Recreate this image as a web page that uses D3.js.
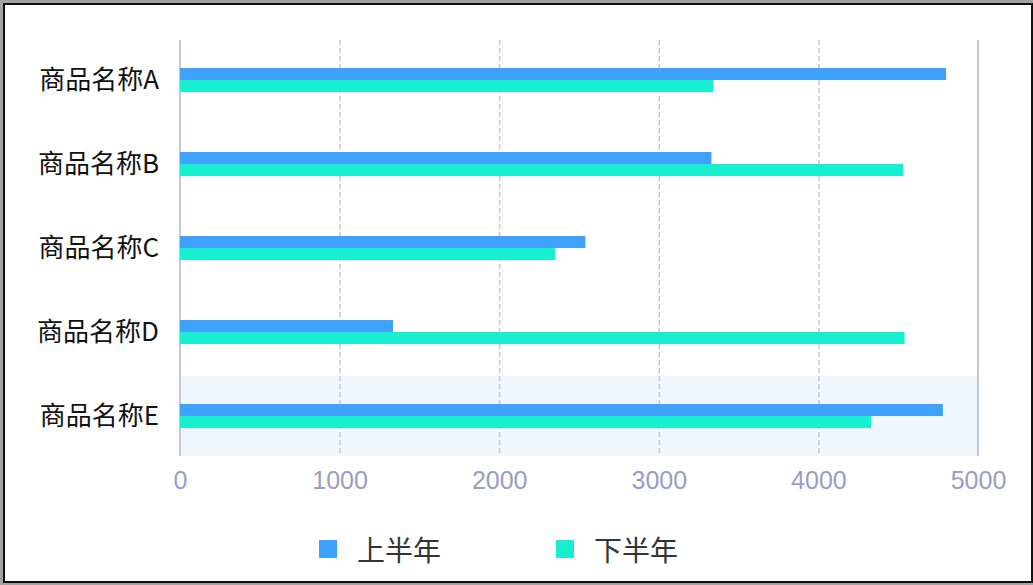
<!DOCTYPE html>
<html>
<head>
<meta charset="utf-8">
<script src="https://cdn.jsdelivr.net/npm/d3@7"></script>
<style>
  html, body { margin: 0; padding: 0; background: #a3a3a3; }
  #frame {
    position: absolute; left: 3px; top: 3px; width: 1026px; height: 576px;
    background: #fff; border: 2px solid #111;
  }
  svg { position: absolute; left: 0; top: 0; }
</style>
</head>
<body>
<div id="frame"></div>
<svg id="chart"></svg>
<script>
// chart data
const categories = ["商品名称A", "商品名称B", "商品名称C", "商品名称D", "商品名称E"];
const firstHalf = [4800, 3330, 2540, 1335, 4780];   // 上半年
const secondHalf = [3340, 4530, 2350, 4540, 4330];  // 下半年
const seriesNames = ["上半年", "下半年"];
const xTicks = [0, 1000, 2000, 3000, 4000, 5000];

const colors = ["#3ea1fe", "#18efcf"];

const width = 1033;
const height = 585;
const margin = { top: 40, right: 55, bottom: 129, left: 180 };
const plotW = width - margin.left - margin.right;   // 798
const plotH = height - margin.top - margin.bottom;  // 416

const svg = d3.select("#chart").attr("width", width).attr("height", height);

const xScale = d3.scaleLinear().domain([0, 5000]).range([0, plotW]);
const yScale = d3.scaleBand().domain(categories).range([-2, plotH + 2]);

const graph = svg.append("g")
  .attr("transform", `translate(${margin.left},${margin.top})`);

// hover shadow on the last category
graph.append("rect")
  .attr("x", 0)
  .attr("y", yScale("商品名称E") + 2)
  .attr("width", plotW)
  .attr("height", yScale.bandwidth() - 4)
  .attr("fill", "#eef7fe");

// dashed gridlines
graph.append("g")
  .call(d3.axisBottom(xScale).tickValues(xTicks.slice(1, -1)).tickSize(plotH).tickFormat(""))
  .call(g => g.select(".domain").remove())
  .selectAll("line")
  .attr("stroke", "#c6c9d3")
  .attr("stroke-width", 1.5)
  .attr("stroke-dasharray", "5,3");

// solid edges at 0 and 5000
graph.selectAll(".edge")
  .data([0, 5000])
  .join("line")
  .attr("x1", d => xScale(d))
  .attr("x2", d => xScale(d))
  .attr("y1", 0)
  .attr("y2", plotH)
  .attr("stroke", "#c4c8d4")
  .attr("stroke-width", 2);

// bars
const barH = 12;
const series = [firstHalf, secondHalf];
series.forEach((vals, si) => {
  graph.append("g")
    .selectAll("rect")
    .data(vals)
    .join("rect")
    .attr("x", 0)
    .attr("y", (d, i) => yScale(categories[i]) + yScale.bandwidth() / 2 - barH + si * barH)
    .attr("width", d => xScale(d))
    .attr("height", barH)
    .attr("fill", colors[si]);
});

// x axis labels
const xAxis = graph.append("g")
  .attr("transform", `translate(0,${plotH})`)
  .call(d3.axisBottom(xScale).tickValues(xTicks).tickSize(0).tickPadding(15).tickFormat(d3.format("d")));
xAxis.select(".domain").remove();
xAxis.selectAll("text")
  .attr("fill", "#9a9cc8")
  .style("font-family", "'Liberation Sans', Arial, sans-serif")
  .style("font-size", "25px");

// y axis labels
const yAxis = graph.append("g")
  .call(d3.axisLeft(yScale).tickSize(0).tickPadding(21));
yAxis.select(".domain").remove();
yAxis.selectAll("text")
  .attr("fill", "#111")
  .attr("dy", "0.36em")
  .style("font-family", "'Noto Sans CJK SC', 'Liberation Sans', sans-serif")
  .style("font-size", "26px");

// legend
const legend = svg.append("g");
const legendX = [319, 556];
seriesNames.forEach((name, i) => {
  legend.append("rect")
    .attr("x", legendX[i])
    .attr("y", 540)
    .attr("width", 18)
    .attr("height", 18)
    .attr("fill", colors[i]);
  legend.append("text")
    .attr("x", legendX[i] + 38)
    .attr("y", 551)
    .attr("dy", "0.36em")
    .attr("fill", "#333")
    .style("font-family", "'Noto Sans CJK SC', sans-serif")
    .style("font-size", "28px")
    .text(name);
});
</script>
</body>
</html>
